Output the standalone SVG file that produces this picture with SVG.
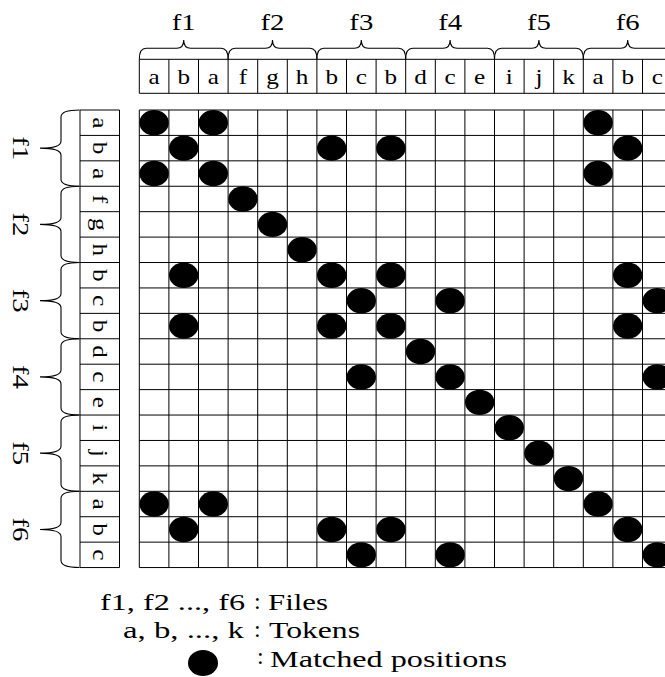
<svg xmlns="http://www.w3.org/2000/svg" xmlns:xlink="http://www.w3.org/1999/xlink" width="665" height="677" viewBox="0 0 665 677">
<style>
text{font-family:"Liberation Serif","Times New Roman",serif;fill:#000}
.h{font-size:21px;text-anchor:middle}
.gl{font-size:23px;text-anchor:middle}
.lg{font-size:24px}
.ln{stroke:#000;stroke-width:1;fill:none}
.br{stroke:#000;stroke-width:1.1;fill:none}
</style>
<defs>
<ellipse id="dot" cx="0" cy="0" rx="14.7" ry="12.7" fill="#000"/>
</defs>
<rect width="665" height="677" fill="#fff"/>

<g id="col-header">
<path class="ln" d="M139.3 59.3H680M139.3 93.3H680M139.3 59.3V93.3M168.9 59.3V93.3M198.5 59.3V93.3M228.1 59.3V93.3M257.7 59.3V93.3M287.3 59.3V93.3M316.9 59.3V93.3M346.5 59.3V93.3M376.1 59.3V93.3M405.7 59.3V93.3M435.3 59.3V93.3M464.9 59.3V93.3M494.5 59.3V93.3M524.1 59.3V93.3M553.7 59.3V93.3M583.3 59.3V93.3M612.9 59.3V93.3M642.5 59.3V93.3"/>
<g class="h">
<text transform="translate(154.1 83.5) scale(1.2 1)">a</text>
<text transform="translate(183.7 83.5) scale(1.2 1)">b</text>
<text transform="translate(213.3 83.5) scale(1.2 1)">a</text>
<text transform="translate(242.9 83.5) scale(1.2 1)">f</text>
<text transform="translate(272.5 83.5) scale(1.2 1)">g</text>
<text transform="translate(302.1 83.5) scale(1.2 1)">h</text>
<text transform="translate(331.7 83.5) scale(1.2 1)">b</text>
<text transform="translate(361.3 83.5) scale(1.2 1)">c</text>
<text transform="translate(390.9 83.5) scale(1.2 1)">b</text>
<text transform="translate(420.5 83.5) scale(1.2 1)">d</text>
<text transform="translate(450.1 83.5) scale(1.2 1)">c</text>
<text transform="translate(479.7 83.5) scale(1.2 1)">e</text>
<text transform="translate(509.3 83.5) scale(1.2 1)">i</text>
<text transform="translate(538.9 83.5) scale(1.2 1)">j</text>
<text transform="translate(568.5 83.5) scale(1.2 1)">k</text>
<text transform="translate(598.1 83.5) scale(1.2 1)">a</text>
<text transform="translate(627.7 83.5) scale(1.2 1)">b</text>
<text transform="translate(657.3 83.5) scale(1.2 1)">c</text>
</g>
</g>

<g id="row-header">
<path class="ln" d="M80 110V567.56M119.5 110V567.56M80 110H119.5M80 135.42H119.5M80 160.84H119.5M80 186.26H119.5M80 211.68H119.5M80 237.1H119.5M80 262.52H119.5M80 287.94H119.5M80 313.36H119.5M80 338.78H119.5M80 364.2H119.5M80 389.62H119.5M80 415.04H119.5M80 440.46H119.5M80 465.88H119.5M80 491.3H119.5M80 516.72H119.5M80 542.14H119.5M80 567.56H119.5"/>
<g class="h">
<text transform="translate(92.5 122.71) rotate(90) scale(1.2 1)">a</text>
<text transform="translate(92.5 148.13) rotate(90) scale(1.2 1)">b</text>
<text transform="translate(92.5 173.55) rotate(90) scale(1.2 1)">a</text>
<text transform="translate(92.5 198.97) rotate(90) scale(1.2 1)">f</text>
<text transform="translate(92.5 224.39) rotate(90) scale(1.2 1)">g</text>
<text transform="translate(92.5 249.81) rotate(90) scale(1.2 1)">h</text>
<text transform="translate(92.5 275.23) rotate(90) scale(1.2 1)">b</text>
<text transform="translate(92.5 300.65) rotate(90) scale(1.2 1)">c</text>
<text transform="translate(92.5 326.07) rotate(90) scale(1.2 1)">b</text>
<text transform="translate(92.5 351.49) rotate(90) scale(1.2 1)">d</text>
<text transform="translate(92.5 376.91) rotate(90) scale(1.2 1)">c</text>
<text transform="translate(92.5 402.33) rotate(90) scale(1.2 1)">e</text>
<text transform="translate(92.5 427.75) rotate(90) scale(1.2 1)">i</text>
<text transform="translate(92.5 453.17) rotate(90) scale(1.2 1)">j</text>
<text transform="translate(92.5 478.59) rotate(90) scale(1.2 1)">k</text>
<text transform="translate(92.5 504.01) rotate(90) scale(1.2 1)">a</text>
<text transform="translate(92.5 529.43) rotate(90) scale(1.2 1)">b</text>
<text transform="translate(92.5 554.85) rotate(90) scale(1.2 1)">c</text>
</g>
</g>

<g id="top-groups">
<path class="br" d="M139.3 59.3Q139.3 48.3 146.3 48.3L176.7 48.3Q183.7 48.3 183.7 40Q183.7 48.3 190.7 48.3L221.1 48.3Q228.1 48.3 228.1 59.3"/>
<path class="br" d="M228.1 59.3Q228.1 48.3 235.1 48.3L265.5 48.3Q272.5 48.3 272.5 40Q272.5 48.3 279.5 48.3L309.9 48.3Q316.9 48.3 316.9 59.3"/>
<path class="br" d="M316.9 59.3Q316.9 48.3 323.9 48.3L354.3 48.3Q361.3 48.3 361.3 40Q361.3 48.3 368.3 48.3L398.7 48.3Q405.7 48.3 405.7 59.3"/>
<path class="br" d="M405.7 59.3Q405.7 48.3 412.7 48.3L443.1 48.3Q450.1 48.3 450.1 40Q450.1 48.3 457.1 48.3L487.5 48.3Q494.5 48.3 494.5 59.3"/>
<path class="br" d="M494.5 59.3Q494.5 48.3 501.5 48.3L531.9 48.3Q538.9 48.3 538.9 40Q538.9 48.3 545.9 48.3L576.3 48.3Q583.3 48.3 583.3 59.3"/>
<path class="br" d="M583.3 59.3Q583.3 48.3 590.3 48.3L620.7 48.3Q627.7 48.3 627.7 40Q627.7 48.3 634.7 48.3L665.1 48.3Q672.1 48.3 672.1 59.3"/>
<g class="gl">
<text transform="translate(183.7 30) scale(1.25 1)">f1</text>
<text transform="translate(272.5 30) scale(1.25 1)">f2</text>
<text transform="translate(361.3 30) scale(1.25 1)">f3</text>
<text transform="translate(450.1 30) scale(1.25 1)">f4</text>
<text transform="translate(538.9 30) scale(1.25 1)">f5</text>
<text transform="translate(627.7 30) scale(1.25 1)">f6</text>
</g>
</g>

<g id="left-groups">
<path class="br" d="M79.5 110Q61 110 61 117L61 141.13Q61 148.13 40 148.13Q61 148.13 61 155.13L61 179.26Q61 186.26 79.5 186.26"/>
<path class="br" d="M79.5 186.26Q61 186.26 61 193.26L61 217.39Q61 224.39 40 224.39Q61 224.39 61 231.39L61 255.52Q61 262.52 79.5 262.52"/>
<path class="br" d="M79.5 262.52Q61 262.52 61 269.52L61 293.65Q61 300.65 40 300.65Q61 300.65 61 307.65L61 331.78Q61 338.78 79.5 338.78"/>
<path class="br" d="M79.5 338.78Q61 338.78 61 345.78L61 369.91Q61 376.91 40 376.91Q61 376.91 61 383.91L61 408.04Q61 415.04 79.5 415.04"/>
<path class="br" d="M79.5 415.04Q61 415.04 61 422.04L61 446.17Q61 453.17 40 453.17Q61 453.17 61 460.17L61 484.3Q61 491.3 79.5 491.3"/>
<path class="br" d="M79.5 491.3Q61 491.3 61 498.3L61 522.43Q61 529.43 40 529.43Q61 529.43 61 536.43L61 560.56Q61 567.56 79.5 567.56"/>
<g class="gl">
<text transform="translate(13 148.13) rotate(90) scale(1.25 1)">f1</text>
<text transform="translate(13 224.39) rotate(90) scale(1.25 1)">f2</text>
<text transform="translate(13 300.65) rotate(90) scale(1.25 1)">f3</text>
<text transform="translate(13 376.91) rotate(90) scale(1.25 1)">f4</text>
<text transform="translate(13 453.17) rotate(90) scale(1.25 1)">f5</text>
<text transform="translate(13 529.43) rotate(90) scale(1.25 1)">f6</text>
</g>
</g>

<g id="matrix">
<path class="ln" d="M139.3 110V567.56M168.9 110V567.56M198.5 110V567.56M228.1 110V567.56M257.7 110V567.56M287.3 110V567.56M316.9 110V567.56M346.5 110V567.56M376.1 110V567.56M405.7 110V567.56M435.3 110V567.56M464.9 110V567.56M494.5 110V567.56M524.1 110V567.56M553.7 110V567.56M583.3 110V567.56M612.9 110V567.56M642.5 110V567.56M139.3 110H680M139.3 135.42H680M139.3 160.84H680M139.3 186.26H680M139.3 211.68H680M139.3 237.1H680M139.3 262.52H680M139.3 287.94H680M139.3 313.36H680M139.3 338.78H680M139.3 364.2H680M139.3 389.62H680M139.3 415.04H680M139.3 440.46H680M139.3 465.88H680M139.3 491.3H680M139.3 516.72H680M139.3 542.14H680M139.3 567.56H680"/>
<g id="matches">
<use xlink:href="#dot" x="154.1" y="122.71"/><use xlink:href="#dot" x="213.3" y="122.71"/><use xlink:href="#dot" x="598.1" y="122.71"/>
<use xlink:href="#dot" x="154.1" y="173.55"/><use xlink:href="#dot" x="213.3" y="173.55"/><use xlink:href="#dot" x="598.1" y="173.55"/>
<use xlink:href="#dot" x="154.1" y="504.01"/><use xlink:href="#dot" x="213.3" y="504.01"/><use xlink:href="#dot" x="598.1" y="504.01"/>
<use xlink:href="#dot" x="183.7" y="148.13"/><use xlink:href="#dot" x="331.7" y="148.13"/><use xlink:href="#dot" x="390.9" y="148.13"/><use xlink:href="#dot" x="627.7" y="148.13"/>
<use xlink:href="#dot" x="183.7" y="275.23"/><use xlink:href="#dot" x="331.7" y="275.23"/><use xlink:href="#dot" x="390.9" y="275.23"/><use xlink:href="#dot" x="627.7" y="275.23"/>
<use xlink:href="#dot" x="183.7" y="326.07"/><use xlink:href="#dot" x="331.7" y="326.07"/><use xlink:href="#dot" x="390.9" y="326.07"/><use xlink:href="#dot" x="627.7" y="326.07"/>
<use xlink:href="#dot" x="183.7" y="529.43"/><use xlink:href="#dot" x="331.7" y="529.43"/><use xlink:href="#dot" x="390.9" y="529.43"/><use xlink:href="#dot" x="627.7" y="529.43"/>
<use xlink:href="#dot" x="361.3" y="300.65"/><use xlink:href="#dot" x="450.1" y="300.65"/><use xlink:href="#dot" x="657.3" y="300.65"/>
<use xlink:href="#dot" x="361.3" y="376.91"/><use xlink:href="#dot" x="450.1" y="376.91"/><use xlink:href="#dot" x="657.3" y="376.91"/>
<use xlink:href="#dot" x="361.3" y="554.85"/><use xlink:href="#dot" x="450.1" y="554.85"/><use xlink:href="#dot" x="657.3" y="554.85"/>
<use xlink:href="#dot" x="242.9" y="198.97"/><use xlink:href="#dot" x="272.5" y="224.39"/><use xlink:href="#dot" x="302.1" y="249.81"/>
<use xlink:href="#dot" x="420.5" y="351.49"/><use xlink:href="#dot" x="479.7" y="402.33"/><use xlink:href="#dot" x="509.3" y="427.75"/>
<use xlink:href="#dot" x="538.9" y="453.17"/><use xlink:href="#dot" x="568.5" y="478.59"/>
</g>
</g>

<g id="legend">
<text class="lg" x="100" y="610" textLength="145" lengthAdjust="spacingAndGlyphs">f1, f2 ..., f6</text>
<text class="lg" x="254" y="609">:</text>
<text class="lg" x="268" y="610" textLength="60" lengthAdjust="spacingAndGlyphs">Files</text>
<text class="lg" x="123" y="638" textLength="121" lengthAdjust="spacingAndGlyphs">a, b, ..., k</text>
<text class="lg" x="254" y="637">:</text>
<text class="lg" x="269" y="638" textLength="91" lengthAdjust="spacingAndGlyphs">Tokens</text>
<ellipse cx="203" cy="663" rx="15" ry="13" fill="#000"/>
<text class="lg" x="257" y="664">:</text>
<text class="lg" x="270" y="667" textLength="237" lengthAdjust="spacingAndGlyphs">Matched positions</text>
</g>
</svg>
